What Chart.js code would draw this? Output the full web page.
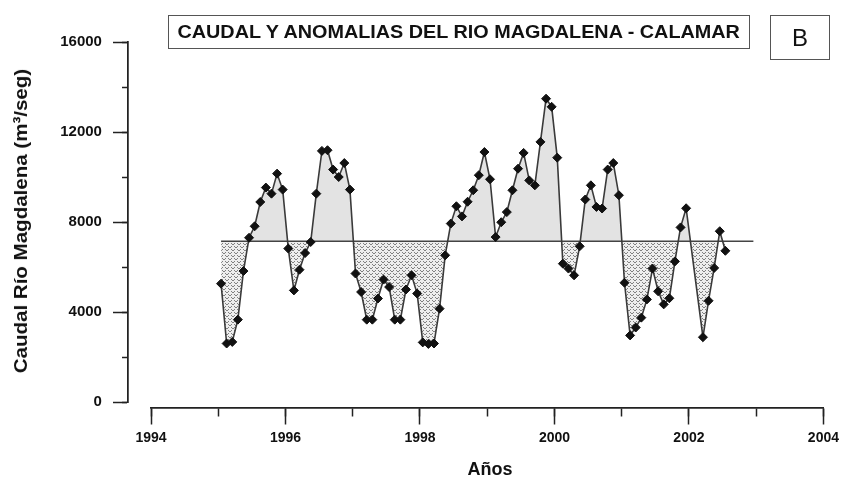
<!DOCTYPE html>
<html><head><meta charset="utf-8">
<script src="https://cdn.jsdelivr.net/npm/chart.js@4.4.0/dist/chart.umd.min.js"></script>
<style>
html,body{margin:0;padding:0;background:#fff;}
#wrap{position:relative;width:845px;height:480px;overflow:hidden;}
canvas{position:absolute;left:0;top:0;}
.txt{position:absolute;font-family:"Liberation Sans",Arial,sans-serif;color:#111;white-space:nowrap;}
#titulo{left:168px;top:15px;width:582px;height:34px;box-sizing:border-box;border:1px solid #555;font-weight:bold;font-size:18px;line-height:32px;text-align:center;}
#titulo span{display:inline-block;transform:scaleX(1.1);}
#letra{left:770px;top:15px;width:60px;height:45px;box-sizing:border-box;border:1px solid #555;font-size:24px;line-height:43px;text-align:center;}
#ytitle{left:21px;top:221px;transform:translate(-50%,-50%) rotate(-90deg);font-weight:bold;font-size:19px;}
#ytitle span{display:inline-block;transform:scaleX(1.08);}
#xtitle{left:490px;top:469px;transform:translate(-50%,-50%);font-weight:bold;font-size:18px;}
</style></head>
<body>
<div id="wrap">
<canvas id="c" width="845" height="480"></canvas>
<div class="txt" id="titulo"><span>CAUDAL Y ANOMALIAS DEL RIO MAGDALENA - CALAMAR</span></div>
<div class="txt" id="letra">B</div>
<div class="txt" id="ytitle"><span>Caudal Río Magdalena (m³/seg)</span></div>
<div class="txt" id="xtitle">Años</div>
</div>
<script>
// ---- data ----
const fechas = [
 '1995-01','1995-02','1995-03','1995-04','1995-05','1995-06','1995-07','1995-08','1995-09','1995-10','1995-11','1995-12',
 '1996-01','1996-02','1996-03','1996-04','1996-05','1996-06','1996-07','1996-08','1996-09','1996-10','1996-11','1996-12',
 '1997-01','1997-02','1997-03','1997-04','1997-05','1997-06','1997-07','1997-08','1997-09','1997-10','1997-11','1997-12',
 '1998-01','1998-02','1998-03','1998-04','1998-05','1998-06','1998-07','1998-08','1998-09','1998-10','1998-11','1998-12',
 '1999-01','1999-02','1999-03','1999-04','1999-05','1999-06','1999-07','1999-08','1999-09','1999-10','1999-11','1999-12',
 '2000-01','2000-02','2000-03','2000-04','2000-05','2000-06','2000-07','2000-08','2000-09','2000-10','2000-11','2000-12',
 '2001-01','2001-02','2001-03','2001-04','2001-05','2001-06','2001-07','2001-08','2001-09','2001-10','2001-11','2001-12',
 '2002-03','2002-04','2002-05','2002-06','2002-07'
];
const caudal = [
 5260,2600,2670,3660,5820,7300,7810,8890,9530,9260,10150,9440,
 6820,4960,5880,6620,7110,9260,11160,11190,10330,10000,10620,9440,
 5710,4890,3660,3660,4600,5440,5110,3660,3660,5000,5630,4820,
 2650,2580,2600,4150,6520,7930,8700,8250,8900,9410,10080,11110,
 9900,7330,7990,8440,9410,10370,11070,9850,9630,11560,13480,13120,
 10860,6150,5930,5630,6920,9000,9630,8670,8600,10330,10620,9190,
 5300,2960,3310,3750,4560,5930,4920,4340,4610,6250,7760,8610,
 2880,4500,5960,7590,6720
];
const caudalMedio = 7150;
const mediaDesde = '1995-01';
const mediaHasta = '2002-12';
const ticksAnios = [1994, 1996, 1998, 2000, 2002, 2004];
const ticksCaudal = [0, 4000, 8000, 12000, 16000];

const FONT = '"Liberation Sans", Arial, sans-serif';
const toX = f => { const [a, m] = f.split('-').map(Number); return a + (m - 0.5) / 12; };

const ctx = document.getElementById('c').getContext('2d');
// stipple pattern for below-mean areas
const tile = document.createElement('canvas');
tile.width = 6; tile.height = 6;
const tg = tile.getContext('2d');
tg.fillStyle = '#eeeeee'; tg.fillRect(0, 0, 6, 6);
tg.fillStyle = '#808080';
[[0,0],[1,1],[2,1],[3,0],[3,3],[4,4],[5,4],[0,3]].forEach(([x, y]) => tg.fillRect(x, y, 1, 1));
const patron = ctx.createPattern(tile, 'repeat');

const axisColor = '#222';
const noTicks = { display: false, autoSkip: false };

new Chart(ctx, {
  type: 'line',
  data: {
    datasets: [
      {
        label: 'Media',
        data: [{ x: toX(mediaDesde), y: caudalMedio }, { x: toX(mediaHasta), y: caudalMedio }],
        borderColor: '#444', borderWidth: 1.5, pointRadius: 0, fill: false, order: 2
      },
      {
        label: 'Caudal',
        data: fechas.map((f, i) => ({ x: toX(f), y: caudal[i] })),
        borderColor: '#3a3a3a', borderWidth: 1.6,
        pointStyle: 'rectRot', pointRadius: 4.5,
        pointBackgroundColor: '#111', pointBorderColor: '#111', pointBorderWidth: 1,
        fill: { target: { value: caudalMedio }, above: '#e3e3e3', below: patron },
        tension: 0, order: 1
      }
    ]
  },
  options: {
    responsive: false, animation: false,
    layout: { padding: { left: 151, right: 16, top: 42, bottom: 78 } },
    plugins: { legend: { display: false }, tooltip: { enabled: false }, filler: { drawTime: 'beforeDatasetsDraw' } },
    scales: {
      x: {
        type: 'linear', min: 1994, max: 2004, position: { y: -250 },
        afterBuildTicks: s => { s.ticks = ticksAnios.map(v => ({ value: v })); },
        grid: { drawOnChartArea: false, tickLength: 16, tickColor: axisColor, tickWidth: 1.5 },
        border: { color: axisColor, width: 1.5 },
        ticks: { font: { family: FONT, size: 14, weight: 'bold' }, color: '#111', padding: 6, autoSkip: false, maxRotation: 0, callback: v => String(v) }
      },
      xm: {
        axis: 'x', type: 'linear', min: 1994, max: 2004, position: { y: -250 },
        grid: { drawOnChartArea: false, tickLength: 8, tickColor: axisColor, tickWidth: 1.5 },
        border: { color: axisColor, width: 1.5 },
        ticks: { stepSize: 1, autoSkip: false, display: false }
      },
      // labels only (placed left of the axis line)
      y: {
        type: 'linear', min: 0, max: 16000, position: { x: 1993.27 },
        afterBuildTicks: s => { s.ticks = ticksCaudal.map(v => ({ value: v })); },
        grid: { display: false }, border: { display: false },
        ticks: { font: { family: FONT, size: 15, weight: 'bold' }, color: '#111', padding: 0, autoSkip: false, callback: v => String(v) }
      },
      // axis line + major ticks
      yM: {
        axis: 'y', type: 'linear', min: 0, max: 16000, position: { x: 1993.66 },
        afterBuildTicks: s => { s.ticks = ticksCaudal.map(v => ({ value: v })); },
        grid: { drawOnChartArea: false, tickLength: 14, tickColor: axisColor, tickWidth: 1.5 },
        border: { color: axisColor, width: 1.5 },
        ticks: noTicks
      },
      // minor ticks
      ym: {
        axis: 'y', type: 'linear', min: 0, max: 16000, position: { x: 1993.66 },
        grid: { drawOnChartArea: false, tickLength: 5, tickColor: axisColor, tickWidth: 1.5 },
        border: { color: axisColor, width: 1.5 },
        ticks: { stepSize: 2000, autoSkip: false, display: false }
      }
    }
  }
});
</script>
</body></html>
